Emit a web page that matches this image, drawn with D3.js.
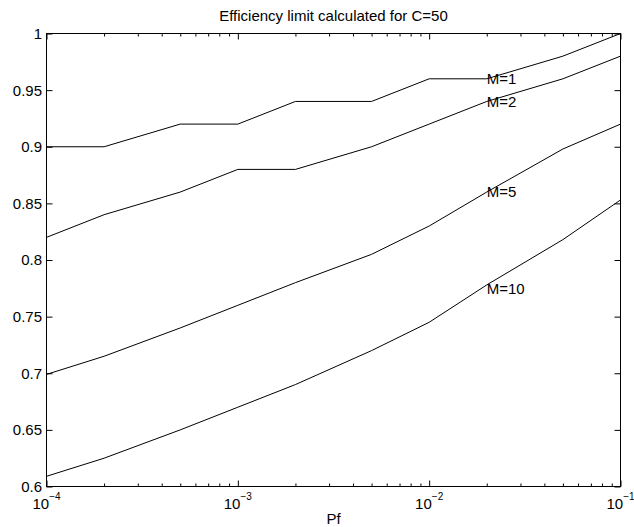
<!DOCTYPE html>
<html>
<head>
<meta charset="utf-8">
<script src="https://cdn.jsdelivr.net/npm/d3@7"></script>
<style>
  html, body { margin: 0; padding: 0; background: #fff; }
  svg { display: block; }
  text { font-family: "Liberation Sans", Arial, Helvetica, sans-serif; fill: #000; }
</style>
</head>
<body>
<svg id="chart" width="634" height="527"></svg>
<script>
// ---- data ----
const pf = [1e-4, 2e-4, 5e-4, 1e-3, 2e-3, 5e-3, 1e-2, 2e-2, 5e-2, 1e-1];
const effM1  = [0.90, 0.90, 0.92, 0.92, 0.94, 0.94, 0.96, 0.96, 0.98, 1.00];
const effM2  = [0.82, 0.84, 0.86, 0.88, 0.88, 0.90, 0.92, 0.94, 0.96, 0.98];
const effM5  = [0.699, 0.715, 0.74, 0.76, 0.78, 0.805, 0.83, 0.86, 0.898, 0.92];
const effM10 = [0.609, 0.625, 0.65, 0.67, 0.69, 0.72, 0.745, 0.778, 0.818, 0.853];
const seriesNames = ["M=1", "M=2", "M=5", "M=10"];
const labelPf = [2e-2, 2e-2, 2e-2, 2e-2];
const labelEff = [0.96, 0.94, 0.86, 0.775];

const xMajorTicks = [1e-4, 1e-3, 1e-2, 1e-1];
const xTickExponents = ["\u22124", "\u22123", "\u22122", "\u22121"];
const yTicks = [0.6, 0.65, 0.7, 0.75, 0.8, 0.85, 0.9, 0.95, 1];
const yTickLabels = ["0.6", "0.65", "0.7", "0.75", "0.8", "0.85", "0.9", "0.95", "1"];

const titleText = "Efficiency limit calculated for C=50";
const xLabelText = "Pf";

// ---- layout ----
const L = 46.5, R = 620.5, T = 33.5, B = 486.5;
const svg = d3.select("#chart");

const x = d3.scaleLog().domain([1e-4, 1e-1]).range([L, R]);
const y = d3.scaleLinear().domain([0.6, 1]).range([B, T]);

// minor ticks for log axis
const xMinor = [];
for (let e = -4; e < -1; e++) for (let m = 2; m <= 9; m++) xMinor.push(m * Math.pow(10, e));

const g = svg.append("g");

// axes (ticks inward)
function styleAxis(sel) {
  sel.select(".domain").remove();
  sel.selectAll("line").attr("stroke", "#000").attr("stroke-width", 1);
  sel.selectAll("text").remove();
}
g.append("g").attr("transform", `translate(0,${B})`)
  .call(d3.axisBottom(x).tickValues(xMajorTicks).tickSize(-6).tickFormat(""))
  .call(styleAxis);
g.append("g").attr("transform", `translate(0,${B})`)
  .call(d3.axisBottom(x).tickValues(xMinor).tickSize(-3).tickFormat(""))
  .call(styleAxis);
g.append("g").attr("transform", `translate(0,${T})`)
  .call(d3.axisTop(x).tickValues(xMajorTicks).tickSize(-6).tickFormat(""))
  .call(styleAxis);
g.append("g").attr("transform", `translate(0,${T})`)
  .call(d3.axisTop(x).tickValues(xMinor).tickSize(-3).tickFormat(""))
  .call(styleAxis);
g.append("g").attr("transform", `translate(${L},0)`)
  .call(d3.axisLeft(y).tickValues(yTicks).tickSize(-6).tickFormat(""))
  .call(styleAxis);
g.append("g").attr("transform", `translate(${R},0)`)
  .call(d3.axisRight(y).tickValues(yTicks).tickSize(-6).tickFormat(""))
  .call(styleAxis);

// box
g.append("rect").attr("x", L).attr("y", T).attr("width", R - L).attr("height", B - T)
  .attr("fill", "none").attr("stroke", "#000").attr("stroke-width", 1);

// y tick labels
g.selectAll(".ylab").data(yTicks).enter().append("text")
  .attr("x", 42).attr("y", d => y(d)).attr("dy", "0.36em")
  .attr("text-anchor", "end").attr("font-size", 15)
  .text((d, i) => yTickLabels[i]);

// x tick labels with superscripts
const xl = g.selectAll(".xlab").data(xMajorTicks).enter().append("text")
  .attr("x", d => x(d)).attr("y", 509).attr("text-anchor", "middle").attr("font-size", 15);
xl.append("tspan").text("10");
xl.append("tspan").attr("font-size", 10).attr("dy", -9).text((d, i) => xTickExponents[i]);

// lines
const allSeries = [effM1, effM2, effM5, effM10];
const line = d3.line().x((d, i) => x(pf[i])).y(d => y(d));
g.selectAll(".series").data(allSeries).enter().append("path")
  .attr("d", d => line(d)).attr("fill", "none").attr("stroke", "#000").attr("stroke-width", 1);

// series labels
g.selectAll(".slab").data(seriesNames).enter().append("text")
  .attr("x", (d, i) => x(labelPf[i])).attr("y", (d, i) => y(labelEff[i])).attr("dy", "0.36em")
  .attr("font-size", 15).text(d => d);

// title and x label
svg.append("text").attr("x", (L + R) / 2).attr("y", 21).attr("text-anchor", "middle")
  .attr("font-size", 15).text(titleText);
svg.append("text").attr("x", (L + R) / 2).attr("y", 524).attr("text-anchor", "middle")
  .attr("font-size", 15).text(xLabelText);
</script>
</body>
</html>
